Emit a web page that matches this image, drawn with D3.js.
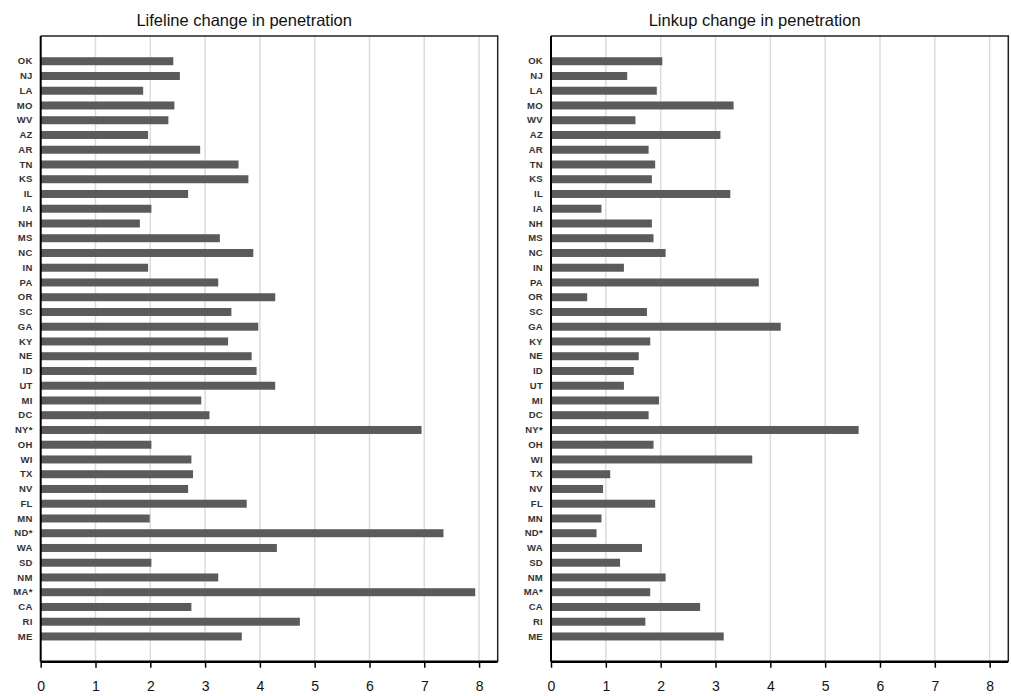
<!DOCTYPE html>
<html><head><meta charset="utf-8">
<script src="https://cdn.jsdelivr.net/npm/d3@7"></script>
<style>body{margin:0;background:#fff}</style>
</head><body>
<svg id="chart" width="1011" height="696"></svg>
<script>
const states = ["OK","NJ","LA","MO","WV","AZ","AR","TN","KS","IL","IA","NH","MS","NC","IN","PA","OR","SC","GA","KY","NE","ID","UT","MI","DC","NY*","OH","WI","TX","NV","FL","MN","ND*","WA","SD","NM","MA*","CA","RI","ME"];
const lifeline = [2.42,2.54,1.87,2.44,2.33,1.96,2.91,3.61,3.79,2.69,2.02,1.81,3.27,3.88,1.96,3.24,4.28,3.48,3.97,3.42,3.85,3.94,4.28,2.93,3.08,6.95,2.02,2.75,2.78,2.69,3.76,1.99,7.35,4.31,2.02,3.24,7.93,2.75,4.73,3.67];
const linkup = [2.03,1.39,1.93,3.33,1.54,3.09,1.78,1.90,1.84,3.27,0.92,1.84,1.87,2.09,1.33,3.79,0.66,1.75,4.19,1.81,1.60,1.51,1.33,1.97,1.78,5.61,1.87,3.67,1.08,0.95,1.90,0.92,0.83,1.66,1.26,2.09,1.81,2.72,1.72,3.15];
const xTicks = [0,1,2,3,4,5,6,7,8];
const titles = ["Lifeline change in penetration","Linkup change in penetration"];

const svg = d3.select("#chart");
const plotTop = 36, plotBottom = 661.7;
const panels = [
  {x0: 40.7, x1: 497.7, data: lifeline, title: titles[0]},
  {x0: 551, x1: 1008.3, data: linkup, title: titles[1]}
];
const y = d3.scaleBand().domain(states).range([plotTop, plotBottom]).paddingInner(0.458).paddingOuter(1.44);

panels.forEach(p => {
  const x = d3.scaleLinear().domain([0, 8.34]).range([p.x0, p.x1]);
  const g = svg.append("g");
  g.selectAll("line.grid").data(xTicks.filter(d => d > 0)).join("line")
    .attr("class", "grid")
    .attr("x1", d => x(d)).attr("x2", d => x(d))
    .attr("y1", plotTop).attr("y2", plotBottom)
    .attr("stroke", "#dcdcdc").attr("stroke-width", 1.5);
  g.selectAll("rect.bar").data(states).join("rect")
    .attr("class", "bar")
    .attr("x", x(0)).attr("y", d => y(d))
    .attr("width", (d, i) => x(p.data[i]) - x(0))
    .attr("height", y.bandwidth())
    .attr("fill", "#5b5b5b");
  g.append("path")
    .attr("d", `M${p.x0},${plotTop}H${p.x1}V${plotBottom}`)
    .attr("fill", "none").attr("stroke", "#222").attr("stroke-width", 1.5);
  const xa = g.append("g").attr("transform", `translate(0,${plotBottom})`)
    .call(d3.axisBottom(x).tickValues(xTicks).tickFormat(d3.format("d")).tickSize(6).tickPadding(13));
  xa.select(".domain").attr("stroke", "#000").attr("stroke-width", 2.5).attr("d", `M${p.x0},0H${p.x1}`);
  xa.selectAll(".tick line").attr("stroke", "#000").attr("stroke-width", 1.5);
  xa.selectAll(".tick text").attr("font-family", "Liberation Sans, Arial, sans-serif").attr("font-size", 14).attr("fill", "#111");
  const ya = g.append("g").attr("transform", `translate(${p.x0},0)`)
    .call(d3.axisLeft(y).tickSize(0).tickPadding(8));
  ya.select(".domain").attr("stroke", "#000").attr("stroke-width", 2).attr("d", `M0,${plotTop}V${plotBottom}`);
  ya.selectAll(".tick text").attr("font-family", "Liberation Sans, Arial, sans-serif")
    .attr("font-size", 9.5).attr("font-weight", "bold").attr("fill", "#333").attr("letter-spacing", 0.3);
  svg.append("text").attr("x", (p.x0 + p.x1) / 2 - 25).attr("y", 26)
    .attr("text-anchor", "middle").attr("font-family", "Liberation Sans, Arial, sans-serif")
    .attr("font-size", 16.5).attr("fill", "#111").text(p.title);
});
</script>
</body></html>
